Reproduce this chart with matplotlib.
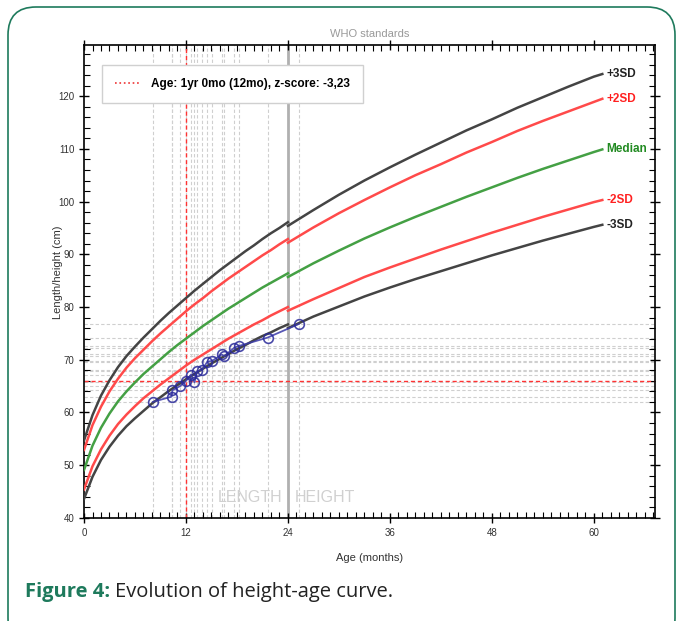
import matplotlib
matplotlib.use("Agg")
import matplotlib.pyplot as plt
from matplotlib.lines import Line2D
from matplotlib.patches import FancyBboxPatch
from matplotlib.transforms import IdentityTransform

plt.rcParams['font.family'] = ['Liberation Sans Narrow', 'Liberation Sans', 'DejaVu Sans']

# WHO reference curves (girls), length 0-24 months
len_age = [0, 1, 2, 3, 4, 5, 6, 7, 8, 9, 10, 11, 12, 13, 14, 15, 16, 17, 18, 19, 20, 21, 22, 23, 24]
len_m3 = [43.6, 47.8, 51.0, 53.5, 55.6, 57.4, 58.9, 60.3, 61.7, 62.9, 64.1, 65.2, 66.3, 67.3, 68.3, 69.3, 70.2, 71.1, 72.0, 72.8, 73.7, 74.5, 75.2, 76.0, 76.7]
len_m2 = [45.4, 49.8, 53.0, 55.6, 57.8, 59.6, 61.2, 62.7, 64.0, 65.3, 66.5, 67.7, 68.9, 70.0, 71.0, 72.0, 73.0, 74.0, 74.9, 75.8, 76.7, 77.5, 78.4, 79.2, 80.0]
len_med = [49.1, 53.7, 57.1, 59.8, 62.1, 64.0, 65.7, 67.3, 68.7, 70.1, 71.5, 72.8, 74.0, 75.2, 76.4, 77.5, 78.6, 79.7, 80.7, 81.7, 82.7, 83.7, 84.6, 85.5, 86.4]
len_p2 = [52.9, 57.6, 61.1, 64.0, 66.4, 68.5, 70.3, 71.9, 73.5, 75.0, 76.4, 77.8, 79.2, 80.5, 81.7, 83.0, 84.2, 85.4, 86.5, 87.6, 88.7, 89.8, 90.8, 91.9, 92.9]
len_p3 = [54.7, 59.5, 63.2, 66.1, 68.6, 70.7, 72.5, 74.2, 75.8, 77.4, 78.9, 80.3, 81.7, 83.1, 84.4, 85.7, 87.0, 88.2, 89.4, 90.6, 91.7, 92.9, 94.0, 95.0, 96.1]

# height 24-61 months
hgt_age = [24, 27, 30, 33, 36, 39, 42, 45, 48, 51, 54, 57, 60, 61]
hgt_m3 = [76.0, 78.2, 80.1, 82.0, 83.7, 85.3, 86.8, 88.3, 89.8, 91.2, 92.6, 93.9, 95.2, 95.6]
hgt_m2 = [79.3, 81.5, 83.6, 85.7, 87.5, 89.2, 90.9, 92.5, 94.1, 95.6, 97.1, 98.5, 99.9, 100.3]
hgt_med = [85.7, 88.3, 90.7, 93.0, 95.1, 97.1, 99.0, 100.9, 102.7, 104.5, 106.2, 107.8, 109.4, 109.9]
hgt_p2 = [92.2, 95.1, 97.8, 100.3, 102.7, 105.0, 107.1, 109.3, 111.3, 113.4, 115.3, 117.1, 118.9, 119.5]
hgt_p3 = [95.4, 98.4, 101.3, 104.0, 106.5, 108.9, 111.2, 113.5, 115.6, 117.8, 119.8, 121.8, 123.7, 124.2]

curve_names = ['+3SD', '+2SD', 'Median', '-2SD', '-3SD']

# child measurements
child_age = [8.1, 10.3, 10.4, 11.3, 12.0, 12.6, 13.0, 13.3, 13.9, 14.5, 15.1, 16.2, 16.5, 17.7, 18.2, 21.6, 25.3]
child_len = [62.0, 63.0, 64.2, 65.0, 66.0, 67.2, 65.7, 67.8, 68.1, 69.6, 69.8, 71.0, 70.7, 72.3, 72.6, 74.2, 76.8]
sel_age = 12.0
sel_len = 66.0

fig = plt.figure(figsize=(6.83, 6.21), dpi=100)
ax = fig.add_axes([0.123, 0.166, 0.836, 0.7615])

# measurement guide lines
for a in child_age:
    ax.axvline(a, color='#cfcfcf', ls='--', lw=0.8, dashes=(3, 2), zorder=1)
for v in child_len:
    if v != sel_len:
        ax.axhline(v, color='#cfcfcf', ls='--', lw=0.8, dashes=(3, 2), zorder=1)
ax.axvline(24, color='#b0b0b0', lw=2, zorder=1)
ax.axvline(sel_age, color='#ff3333', ls='--', lw=1.0, dashes=(3, 2), zorder=2)
ax.axhline(sel_len, color='#ff3333', ls='--', lw=1.0, dashes=(3, 2), zorder=2)

colors = ['#444444', '#ff4a4a', '#44a044', '#ff4a4a', '#444444']
label_colors = ['#222222', '#ff2020', '#228b22', '#ff2020', '#222222']
len_sets = [len_p3, len_p2, len_med, len_m2, len_m3]
hgt_sets = [hgt_p3, hgt_p2, hgt_med, hgt_m2, hgt_m3]
for name, c, lc, lv, hv in zip(curve_names, colors, label_colors, len_sets, hgt_sets):
    ax.plot(len_age, lv, color=c, lw=1.8, zorder=3)
    ax.plot(hgt_age, hv, color=c, lw=1.8, zorder=3)
    ax.annotate(name, (hgt_age[-1], hv[-1]), xytext=(3, 0), textcoords='offset points',
                color=lc, fontsize=8.5, fontweight='bold', va='center', ha='left')

ax.plot(child_age, child_len, color='#3a3aa8', lw=1.3, marker='o', ms=7,
        mfc='none', mec='#2a2a9a', mew=1.2, alpha=0.85, zorder=4)

ax.text(23.3, 43.9, 'LENGTH', color='#d0d0d0', fontsize=11.5, ha='right', va='center')
ax.text(24.8, 43.9, 'HEIGHT', color='#d0d0d0', fontsize=11.5, ha='left', va='center')

ax.set_xlim(0, 67.2)
ax.set_ylim(40, 129.7)
ax.set_xticks([0, 12, 24, 36, 48, 60])
ax.set_xticks(range(0, 68), minor=True)
ax.set_yticks(range(40, 121, 10))
ax.set_yticks(range(40, 130, 2), minor=True)
ax.tick_params(which='major', direction='inout', length=7, width=1, labelsize=7,
               labelcolor='#333333', top=True, right=True)
ax.tick_params(which='minor', direction='in', length=4, width=0.8, top=True, right=True)
for s in ax.spines.values():
    s.set_linewidth(1.2)

ax.set_xlabel('Age (months)', fontsize=8, color='#333333', labelpad=11)
ax.set_ylabel('Length/height (cm)', fontsize=8, color='#333333')
ax.yaxis.set_label_coords(-0.036, 0.52)
ax.set_title('WHO standards', fontsize=8, color='#999999', pad=6)

leg = ax.legend(handles=[Line2D([], [], color='#ee3333', ls=':', lw=1.2)],
                labels=['Age: 1yr 0mo (12mo), z-score: -3,23'],
                loc='upper left', bbox_to_anchor=(0.022, 0.97), fancybox=False,
                edgecolor='#d0d0d0', framealpha=1, borderpad=1.1, handlelength=2.2,
                prop={'size': 8.5, 'weight': 'bold'})
leg.get_frame().set_linewidth(1)

# caption and border
fig.text(25 / 683, 1 - 592 / 621, 'Figure 4:', fontsize=14.5, fontweight='bold', color='#1e7a5c',
         family=['Open Sans', 'DejaVu Sans'], va='center')
fig.text(115 / 683, 1 - 592 / 621, 'Evolution of height-age curve.', fontsize=14.5, color='#222222',
         family=['Open Sans', 'DejaVu Sans'], va='center')
fig.patches.append(FancyBboxPatch((8, -25), 667, 639, boxstyle='round,pad=0,rounding_size=28',
                                  transform=IdentityTransform(), fill=False,
                                  edgecolor='#1e7a5c', lw=1.2))

fig.savefig('out.png', dpi=100)
